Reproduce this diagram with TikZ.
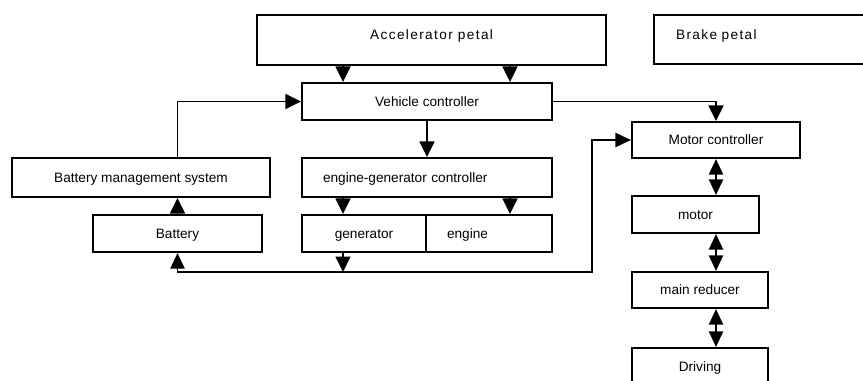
\documentclass[tikz,border=0pt]{standalone}
\usepackage{fontspec}
\setmainfont{Liberation Sans}
\newfontfamily\spacedfont[LetterSpace=10]{Liberation Sans}
\usetikzlibrary{arrows.meta}
\tikzset{
	block/.style={draw, line width=1.5pt, minimum height=0.925cm, inner sep=0pt, text height=8.5pt, text depth=1.5pt, font=\fontsize{9.7}{12}\selectfont},
	leftblock/.style={block, align=left, inner xsep=0.525cm},
	pedal/.style={block, font=\fontsize{9.7}{12}\selectfont\spacedfont, text height=7pt, text depth=0.27cm},
	arr/.style={line width=1.4pt, -{Triangle[width=10.5pt,length=11pt]}},
	twoway/.style={line width=1.4pt, {Triangle[width=10pt,length=11pt]}-{Triangle[width=10pt,length=11pt]}},
}
\begin{document}
\begin{tikzpicture}
	\useasboundingbox (0, 0) rectangle (21.575, -9.5) ;
	\clip (0, 0) rectangle (21.575, -9.5) ;
		% pedals
		\node (accel)[pedal, minimum width=8.725cm, minimum height=1.25cm] at (10.79, -1.0) {Accelerator petal} ;
		\node (brake)[pedal, anchor=west, minimum height=1.225cm, text width=4.4cm, align=left, inner xsep=0.55cm] at (16.325, -0.99) {Brake petal} ;
		% controllers
		\node (vc)[block, minimum width=6.25cm] at (10.675, -2.5375) {Vehicle controller} ;
		\node (mc)[block, minimum width=4.2cm, minimum height=0.9cm] at (17.9, -3.5) {Motor controller} ;
		\node (bms)[block, minimum width=6.45cm, minimum height=0.975cm] at (3.525, -4.4375) {Battery management system} ;
		\node (egc)[leftblock, text width=5.2cm, minimum height=0.975cm] at (10.675, -4.4375) {engine-generator controller} ;
		% power side
		\node (battery)[block, minimum width=4.225cm] at (4.4375, -5.8375) {Battery} ;
		\node (gen)[block, minimum width=3.1cm] at (9.1, -5.8375) {generator} ;
		\node (engine)[leftblock, text width=2.1cm] at (12.225, -5.8375) {engine} ;
		% drive line
		\node (motor)[block, minimum width=3.175cm] at (17.3875, -5.3625) {motor} ;
		\node (reducer)[block, minimum width=3.4cm, minimum height=0.9cm] at (17.5, -7.25) {main reducer} ;
		\node (driving)[block, minimum width=3.4cm] at (17.5, -9.1625) {Driving} ;
		\coordinate (colL) at (8.575, 0) ;
		\coordinate (colR) at (12.75, 0) ;
		\coordinate (riser) at (14.8, 0) ;
		\coordinate (bus) at (0, -6.8) ;
	\draw[arr] (accel.south -| colL) -- (vc.north -| colL) ;
	\draw[arr] (accel.south -| colR) -- (vc.north -| colR) ;
	\draw[arr] (bms.north -| battery.north) |- (vc.west) ;
	\draw[arr] (vc.east) -| (mc.north) ;
	\draw[arr] (vc.south) -- (egc.north) ;
	\draw[arr] (egc.south -| colL) -- (gen.north -| colL) ;
	\draw[arr] (egc.south -| colR) -- (engine.north -| colR) ;
	\draw[arr] (gen.south -| colL) -- (bus -| colL) ;
	% \draw[arr] (battery.south) -- (bms.north -| battery.north) ;
	\draw[arr] (battery.north) -- (bms.south -| battery.north) ;
	\draw[twoway] (battery.south) |- (riser |- bus) |- (mc.west) ;
	\draw[twoway] (mc.south) -- (motor.north -| mc.south) ;
	\draw[twoway] (motor.south -| mc.south) -- (reducer.north -| mc.south) ;
	\draw[twoway] (reducer.south -| mc.south) -- (driving.north -| mc.south) ;
\end{tikzpicture}
\end{document}
